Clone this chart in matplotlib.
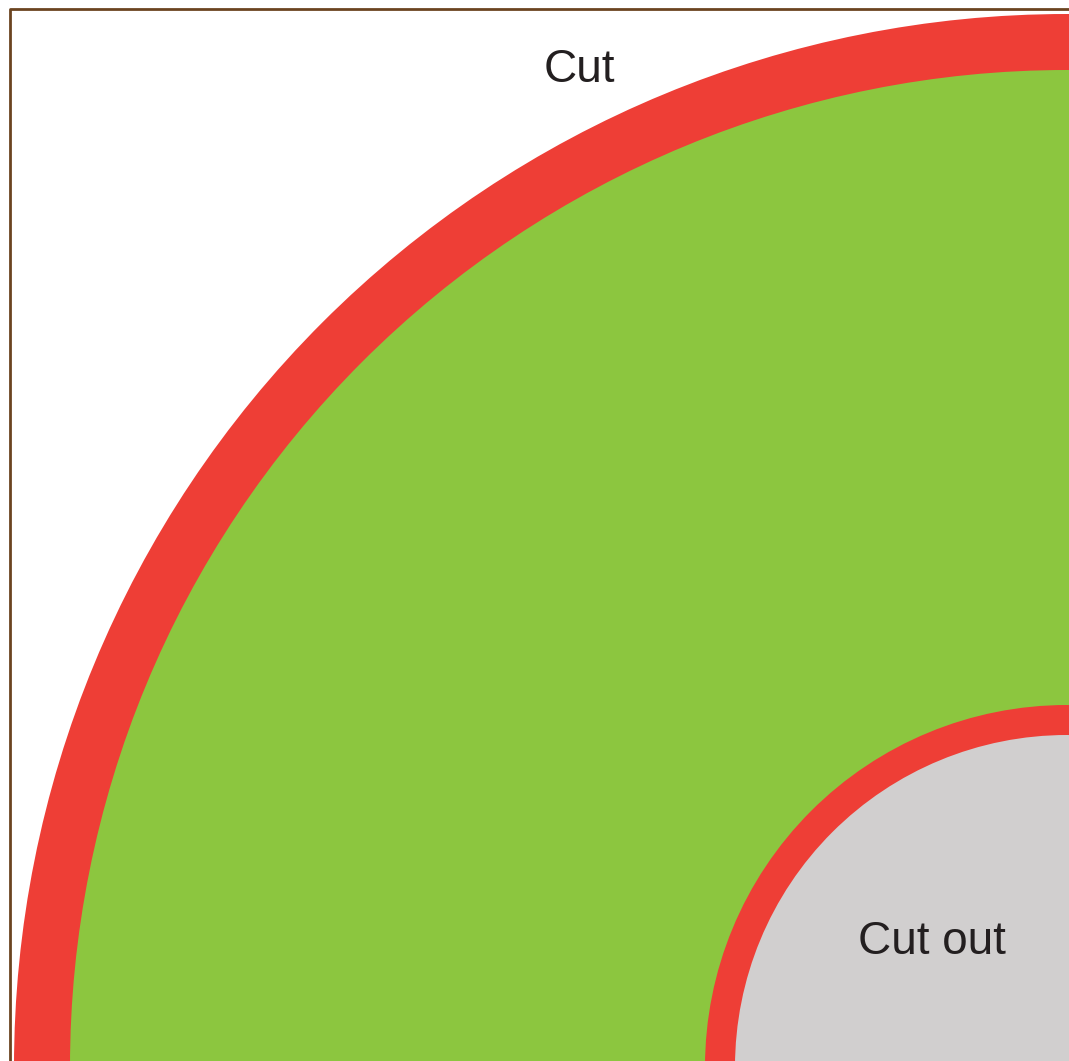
import matplotlib
matplotlib.use("Agg")
import matplotlib.pyplot as plt
from matplotlib.patches import Circle

# Ring radii (pixels, from the shared centre near the bottom-right corner)
ring_radii = [1053, 997, 362, 332]
ring_colors = ["#ee3e36", "#8cc63f", "#ee3e36", "#d1cfcf"]
labels = ["Cut", "Cut out"]
label_pos = [(579, 70), (932, 942)]
centre = (1067, 1067)

W, H = 1069, 1061
fig = plt.figure(figsize=(W / 100, H / 100), dpi=100)
ax = fig.add_axes([0, 0, 1, 1])
ax.set_xlim(0, W)
ax.set_ylim(H, 0)
ax.set_aspect("equal")
ax.axis("off")

for r, c in zip(ring_radii, ring_colors):
    ax.add_patch(Circle(centre, r, facecolor=c, edgecolor="none"))

# frame (left and top edges)
ax.plot([10, 10, W + 5], [H + 5, 9, 9], color="#6b4420", lw=2.0, solid_capstyle="butt")

for t, (x, y) in zip(labels, label_pos):
    ax.text(x, y, t, ha="center", va="center", fontsize=33,
            family=["Liberation Sans", "DejaVu Sans"], color="#231f20")

fig.savefig("out.png", dpi=100)
